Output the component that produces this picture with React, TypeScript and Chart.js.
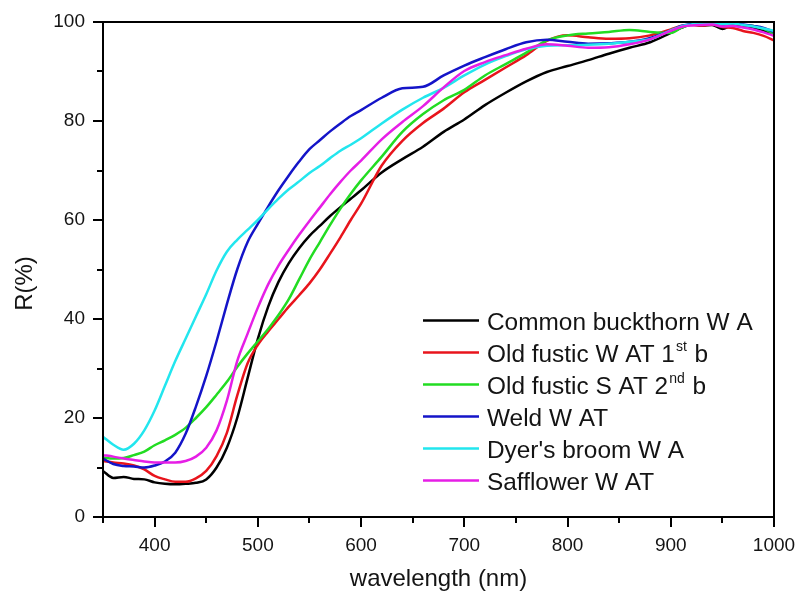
import React, { useEffect, useRef } from "react";
import { Chart, registerables } from "chart.js";

Chart.register(...registerables);

const wavelengths = [350, 360, 370, 380, 390, 400, 410, 420, 430, 440, 450, 460, 470, 480, 490, 500, 510, 520, 530, 540, 550, 560, 570, 580, 590, 600,
  620, 640, 660, 680, 700, 720, 740, 760, 780, 800, 820, 840, 860, 880,
  900, 910, 920, 930, 940, 950, 960, 970, 980, 990, 1000];

const commonBuckthorn = [9.3, 7.9, 8.1, 7.7, 7.6, 7.0, 6.7, 6.6, 6.7, 6.9, 7.6, 10, 14, 20, 28, 36, 42.5, 47.5, 51.3, 54.3, 56.8, 58.8, 60.8, 62.6, 64.3, 66,
  69.6, 72.3, 74.8, 77.8, 80.3, 83.2, 85.7, 88, 89.9, 91.1, 92.3, 93.6, 94.8, 95.9,
  97.8, 98.8, 99.5, 99.3, 99.4, 98.6, 99.3, 99.1, 98.8, 98.3, 97.3];

const oldFusticW = [11.3, 11, 10.8, 10.4, 9.6, 8.3, 7.6, 7.1, 7.1, 7.8, 9.3, 12.3, 17, 24.5, 31, 34.8, 37.5, 40, 42.5, 44.8, 47.2, 50, 53.2, 56.5, 60, 63.3,
  71, 76, 79.6, 82.5, 85.8, 88.3, 90.8, 93.3, 96.2, 97.3, 96.9, 96.6, 96.7, 97.3,
  98.5, 99.2, 99.4, 99.3, 99.5, 99, 98.8, 98.2, 97.8, 97.2, 96.3];

const oldFusticS = [12, 11.8, 11.9, 12.5, 13.2, 14.5, 15.5, 16.6, 18, 20, 22.2, 24.7, 27.3, 30.3, 33, 35.5, 38, 40.8, 44, 48, 52, 55.5, 59, 62.3, 65.3, 68,
  72.8, 77.8, 81.4, 84.2, 86.3, 89.2, 91.5, 93.8, 96.3, 97.3, 97.7, 98, 98.4, 98,
  97.8, 98.8, 99.5, 99.7, 99.8, 99.6, 99.7, 99.4, 99.2, 98.6, 97.6];

const weld = [11.8, 10.7, 10.3, 10.2, 10, 10.4, 11.2, 13, 16.8, 22.3, 28.5, 35.5, 43, 50, 55.5, 59.2, 62.7, 66, 69, 71.8, 74.3, 76.1, 77.9, 79.5, 81, 82.2,
  84.7, 86.6, 86.9, 89.2, 91.2, 92.9, 94.5, 95.9, 96.4, 96, 95.6, 95.7, 96, 96.8,
  98.3, 99.2, 99.6, 99.7, 99.8, 99.5, 99.7, 99.5, 99.2, 98.8, 98];

const dyersBroom = [16.2, 14.6, 13.6, 14.8, 17.5, 21.5, 26.5, 31.5, 36, 40.5, 45, 49.8, 53.6, 56, 58, 60, 62.2, 64.3, 66.2, 67.8, 69.5, 70.9, 72.5, 74, 75.2, 76.5,
  79.5, 82.3, 84.7, 86.7, 89.2, 91.4, 93.1, 94.5, 95.2, 95.3, 95.4, 95.6, 96, 96.5,
  98.3, 99.1, 99.5, 99.8, 99.7, 99.6, 99.7, 99.4, 99.1, 98.7, 98.2];

const safflower = [12.5, 12.2, 11.8, 11.5, 11.2, 11, 11, 11, 11.3, 12.2, 14, 17.5, 23.5, 31.5, 37, 42.3, 47, 50.8, 54, 57, 59.8, 62.5, 65.2, 67.7, 70, 72,
  76.3, 79.8, 83, 86.8, 90.1, 91.9, 93.3, 94.6, 95.5, 95.2, 94.8, 94.9, 95.5, 96.5,
  98.2, 99, 99.3, 99.4, 99.5, 99.1, 99.2, 98.9, 98.5, 97.9, 97.2];

const seriesLabels = [
  "Common buckthorn W A",
  "Old fustic W AT 1^{st} b",
  "Old fustic S AT 2^{nd} b",
  "Weld W AT",
  "Dyer's broom W A",
  "Safflower W AT",
];
const seriesValues = [commonBuckthorn, oldFusticW, oldFusticS, weld, dyersBroom, safflower];
const seriesColors = ["#000000", "#e8141c", "#22dc22", "#1414c8", "#22e6ee", "#e61ee6"];

const xMajorTicks = [400, 500, 600, 700, 800, 900, 1000];
const yMajorTicks = [0, 20, 40, 60, 80, 100];
const xTitle = "wavelength (nm)";
const yTitle = "R(%)";

const FONT = "'Liberation Sans', Arial, Helvetica, sans-serif";
const TEXT_COLOR = "#141414";

const framePlugin = {
  id: "frameAndLegend",
  afterDraw(chart: any) {
    const { ctx, chartArea: a, scales } = chart;
    const xs = scales.x;
    const ys = scales.y;
    ctx.save();
    ctx.strokeStyle = "#000";
    ctx.lineWidth = 2;
    ctx.lineCap = "butt";
    ctx.strokeRect(a.left, a.top, a.right - a.left, a.bottom - a.top);
    // x ticks (major every 100, minor every 50)
    for (let v = xs.min; v <= xs.max + 0.001; v += 50) {
      const px = Math.round(xs.getPixelForValue(v));
      const len = v % 100 === 0 ? 10 : 6;
      ctx.beginPath();
      ctx.moveTo(px, a.bottom);
      ctx.lineTo(px, a.bottom + len);
      ctx.stroke();
    }
    // y ticks (major every 20, minor every 10)
    for (let v = ys.min; v <= ys.max + 0.001; v += 10) {
      const py = Math.round(ys.getPixelForValue(v));
      const len = v % 20 === 0 ? 10 : 6;
      ctx.beginPath();
      ctx.moveTo(a.left, py);
      ctx.lineTo(a.left - len, py);
      ctx.stroke();
    }
    // y title
    ctx.fillStyle = TEXT_COLOR;
    ctx.font = `24px ${FONT}`;
    ctx.textAlign = "center";
    ctx.textBaseline = "alphabetic";
    ctx.translate(32, (a.top + a.bottom) / 2 + 14);
    ctx.rotate(-Math.PI / 2);
    ctx.fillText(yTitle, 0, 0);
    ctx.restore();

    // legend
    ctx.save();
    const lineX0 = a.left + 320;
    const lineX1 = a.left + 376;
    const textX = a.left + 384;
    const rowY0 = a.top + 298.5;
    const rowH = 32;
    chart.data.datasets.forEach((ds: any, i: number) => {
      const y = rowY0 + i * rowH;
      ctx.strokeStyle = ds.borderColor;
      ctx.lineWidth = 2.5;
      ctx.beginPath();
      ctx.moveTo(lineX0, y);
      ctx.lineTo(lineX1, y);
      ctx.stroke();
      ctx.fillStyle = TEXT_COLOR;
      ctx.textAlign = "left";
      ctx.textBaseline = "alphabetic";
      const base = y + 9;
      let x = textX;
      const parts = String(ds.label).split(/(\^\{[^}]*\})/);
      parts.forEach((p: string) => {
        if (!p) return;
        if (p.startsWith("^{")) {
          const t = p.slice(2, -1);
          ctx.font = `14px ${FONT}`;
          ctx.fillText(t, x + 1, base - 11);
          x += ctx.measureText(t).width + 2;
        } else {
          ctx.font = `24.4px ${FONT}`;
          ctx.fillText(p, x, base);
          x += ctx.measureText(p).width;
        }
      });
    });
    ctx.restore();
  },
};

export default function App() {
  const canvasRef = useRef<HTMLCanvasElement | null>(null);

  useEffect(() => {
    const canvas = canvasRef.current;
    if (!canvas) return;
    const datasets = seriesLabels.map((label, i) => ({
      label,
      data: wavelengths.map((w, j) => ({ x: w, y: seriesValues[i][j] })),
      borderColor: seriesColors[i],
      backgroundColor: seriesColors[i],
      borderWidth: 2.5,
      pointRadius: 0,
      fill: false,
      cubicInterpolationMode: "monotone" as const,
      order: seriesLabels.length - i,
    }));
    const chart = new Chart(canvas, {
      type: "line",
      data: { datasets },
      options: {
        animation: false,
        responsive: false,
        devicePixelRatio: 1,
        layout: { padding: { top: 22, right: 24, left: 0, bottom: 0 } },
        plugins: {
          legend: { display: false },
          tooltip: { enabled: false },
        },
        scales: {
          x: {
            type: "linear",
            min: 350,
            max: 1000,
            afterBuildTicks: (scale: any) => {
              scale.ticks = xMajorTicks.map((v) => ({ value: v }));
            },
            afterFit: (scale: any) => {
              scale.height = 77;
              scale.paddingLeft = 0;
              scale.paddingRight = 0;
              scale.paddingTop = 0;
              scale.paddingBottom = 0;
            },
            grid: { display: false, drawTicks: false },
            border: { display: false },
            ticks: {
              font: { family: FONT, size: 19 },
              color: TEXT_COLOR,
              padding: 17,
              maxRotation: 0,
              callback: (v: any) => String(v),
            },
            title: {
              display: true,
              text: xTitle,
              font: { family: FONT, size: 24 },
              color: TEXT_COLOR,
              padding: { top: 0, bottom: 0 },
            },
          },
          y: {
            type: "linear",
            min: 0,
            max: 100,
            afterBuildTicks: (scale: any) => {
              scale.ticks = yMajorTicks.map((v) => ({ value: v }));
            },
            afterFit: (scale: any) => {
              scale.width = 103;
              scale.paddingLeft = 0;
              scale.paddingRight = 0;
              scale.paddingTop = 0;
              scale.paddingBottom = 0;
            },
            grid: { display: false, drawTicks: false },
            border: { display: false },
            ticks: {
              font: { family: FONT, size: 19 },
              color: TEXT_COLOR,
              padding: 18,
              callback: (v: any) => String(v),
            },
          },
        },
      },
      plugins: [framePlugin],
    });
    return () => chart.destroy();
  }, []);

  return (
    <div style={{ position: "fixed", left: 0, top: 0, width: 798, height: 594, background: "#fff" }}>
      <canvas ref={canvasRef} width={798} height={594} style={{ display: "block" }} />
    </div>
  );
}
